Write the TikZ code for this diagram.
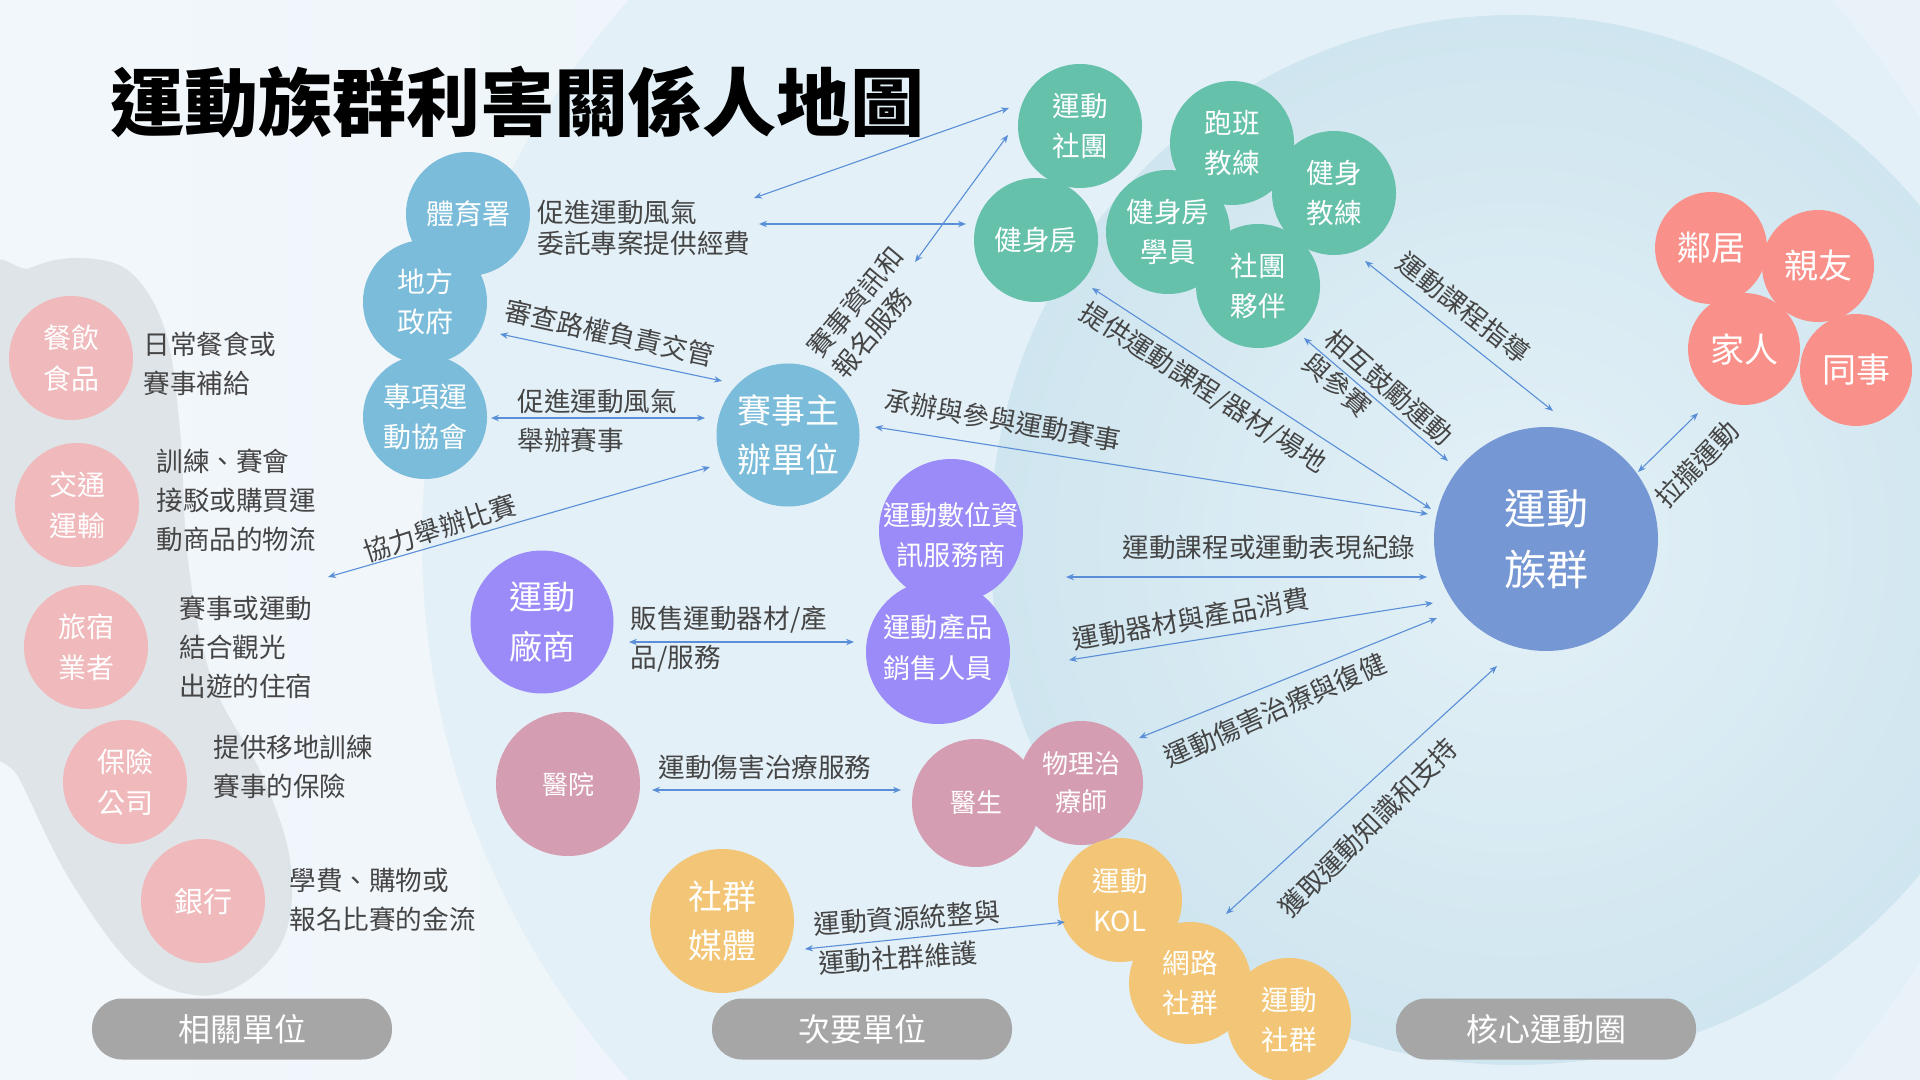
\documentclass[tikz,border=0pt]{standalone}
\usepackage{fontspec}
\setmainfont{Noto Sans CJK TC}
\usetikzlibrary{arrows.meta}
\definecolor{bgA}{HTML}{F2F7FB}
\definecolor{bgB}{HTML}{E8F2F8}
\definecolor{secfill}{HTML}{E3F0F7}
\definecolor{coreIn}{HTML}{E4F1F7}
\definecolor{coreOut}{HTML}{CFE5EF}
\definecolor{blobgray}{HTML}{DCE3E7}
\definecolor{cblue}{HTML}{7ABCD9}
\definecolor{cgreen}{HTML}{66C1AB}
\definecolor{csalmon}{HTML}{F9918A}
\definecolor{ccore}{HTML}{7597D3}
\definecolor{cpink}{HTML}{F0B9BB}
\definecolor{cpurple}{HTML}{9A8BF9}
\definecolor{cmauve}{HTML}{D59DB1}
\definecolor{cyellow}{HTML}{F2C676}
\definecolor{cpill}{HTML}{A6A6A6}
\definecolor{carrow}{HTML}{5A8FD8}
\definecolor{ctext}{HTML}{454545}
\tikzset{
  bub/.style={circle, inner sep=0pt, minimum size=#1, draw=none},
  wtxt/.style={text=white, align=center, inner sep=0pt},
  fs/.style 2 args={font=\fontsize{#1}{#2}\selectfont},
  lbl/.style={text=ctext, align=left, inner sep=0pt, font=\fontsize{13.3}{19.5}\selectfont},
  pill/.style={fill=cpill, rounded corners=15pt, minimum width=150pt, minimum height=30.5pt, text=white, inner sep=0pt, font=\fontsize{16}{20}\selectfont},
  conn/.style={draw=carrow, line width=0.55pt, {Stealth[length=4pt,width=3.2pt]}-{Stealth[length=4pt,width=3.2pt]}}
}
\begin{document}
\begin{tikzpicture}[x=0.5pt,y=-0.5pt]
\useasboundingbox (0,0) rectangle (1920,1080);
% ---------- background ----------
\begin{scope}
\clip (0,0) rectangle (1920,1080);
\shade[left color=bgA, right color=bgB] (0,0) rectangle (1920,1080);
\fill[secfill] (1230,540) circle[radius=404pt];
\shade[inner color=coreIn, outer color=coreOut] (1515,540) circle[radius=262.5pt];
\fill[blobgray, opacity=0.9] plot[smooth cycle, tension=0.6] coordinates {
 (-20,300) (30,268) (80,258) (130,272) (165,330) (180,430) (188,560) (212,680)
 (262,775) (290,860) (285,935) (245,982) (195,995) (135,968) (70,880) (20,780) (-20,700)};
\end{scope}
% ---------- title ----------
\node[font=\fontsize{37}{40}\selectfont\bfseries, text=black, inner sep=0pt] (title) at (517,102) {運動族群利害關係人地圖};
% ---------- circles ----------
% blue
\node[bub=62pt, fill=cblue] (tiyu) at (468,214) {};
\node[bub=62pt, fill=cblue] (difang) at (425,302) {};
\node[bub=62pt, fill=cblue] (zhuanxiang) at (425,417) {};
\node[bub=71.5pt, fill=cblue] (saishi) at (788,435) {};
% green
\node[bub=62pt, fill=cgreen] (ydst) at (1080,126) {};
\node[bub=62pt, fill=cgreen] (jsf) at (1036,240) {};
\node[bub=62pt, fill=cgreen] (paoban) at (1232,143) {};
\node[bub=62pt, fill=cgreen] (jsjl) at (1334,193) {};
\node[bub=62pt, fill=cgreen] (xueyuan) at (1168,232) {};
\node[bub=62pt, fill=cgreen] (huoban) at (1258,286) {};
% salmon
\node[bub=56pt, fill=csalmon] (linju) at (1711,248) {};
\node[bub=56pt, fill=csalmon] (qinyou) at (1818,266) {};
\node[bub=56pt, fill=csalmon] (jiaren) at (1744,349) {};
\node[bub=56pt, fill=csalmon] (tongshi) at (1856,370) {};
% core
\node[bub=112pt, fill=ccore] (zuqun) at (1546,539) {};
% left pink
\node[bub=62pt, fill=cpink] (canyin) at (71,358) {};
\node[bub=62pt, fill=cpink] (jiaotong) at (77,505) {};
\node[bub=62pt, fill=cpink] (lvsu) at (86,647) {};
\node[bub=62pt, fill=cpink] (baoxian) at (125,782) {};
\node[bub=62pt, fill=cpink] (yinhang) at (203,901) {};
% purple
\node[bub=71.5pt, fill=cpurple] (changshang) at (542,622) {};
\node[bub=72pt, fill=cpurple] (shuwei) at (951,531) {};
\node[bub=72pt, fill=cpurple] (xiaoshou) at (938,652) {};
% mauve
\node[bub=72pt, fill=cmauve] (yiyuan) at (568,784) {};
\node[bub=64pt, fill=cmauve] (yisheng) at (976,803) {};
\node[bub=62pt, fill=cmauve] (wuli) at (1081,783) {};
% yellow
\node[bub=72pt, fill=cyellow] (shequn) at (722,921) {};
\node[bub=62pt, fill=cyellow] (kol) at (1120,900) {};
\node[bub=61pt, fill=cyellow] (wanglu) at (1190,983) {};
\node[bub=62pt, fill=cyellow] (ydsq) at (1289,1020) {};
% ---------- circle texts ----------
\node[wtxt, fs={14}{20}] (tiyu-t) at (tiyu) {體育署};
\node[wtxt, fs={14}{20}] (difang-t) at (difang) {地方\\政府};
\node[wtxt, fs={14}{20}] (zhuanxiang-t) at (zhuanxiang) {專項運\\動協會};
\node[wtxt, fs={17}{24.5}] (saishi-t) at (saishi) {賽事主\\辦單位};
\node[wtxt, fs={13.8}{20}] (ydst-t) at (ydst) {運動\\社團};
\node[wtxt, fs={13.8}{20}] (jsf-t) at (jsf) {健身房};
\node[wtxt, fs={13.8}{20}] (paoban-t) at (paoban) {跑班\\教練};
\node[wtxt, fs={13.8}{20}] (jsjl-t) at (jsjl) {健身\\教練};
\node[wtxt, fs={13.8}{20}] (xueyuan-t) at (xueyuan) {健身房\\學員};
\node[wtxt, fs={13.8}{20}] (huoban-t) at (huoban) {社團\\夥伴};
\node[wtxt, fs={17}{24}] (linju-t) at (linju) {鄰居};
\node[wtxt, fs={17}{24}] (qinyou-t) at (qinyou) {親友};
\node[wtxt, fs={17}{24}] (jiaren-t) at (jiaren) {家人};
\node[wtxt, fs={17}{24}] (tongshi-t) at (tongshi) {同事};
\node[wtxt, fs={21}{30.5}] (zuqun-t) at (zuqun) {運動\\族群};
\node[wtxt, fs={14}{20.5}] (canyin-t) at (canyin) {餐飲\\食品};
\node[wtxt, fs={14}{20.5}] (jiaotong-t) at (jiaotong) {交通\\運輸};
\node[wtxt, fs={14}{20.5}] (lvsu-t) at (lvsu) {旅宿\\業者};
\node[wtxt, fs={14}{20.5}] (baoxian-t) at (baoxian) {保險\\公司};
\node[wtxt, fs={14.5}{20.5}] (yinhang-t) at (yinhang) {銀行};
\node[wtxt, fs={16.5}{25}] (changshang-t) at (changshang) {運動\\廠商};
\node[wtxt, fs={13.6}{20}] (shuwei-t) at (951,535) {運動數位資\\訊服務商};
\node[wtxt, fs={13.6}{20.5}] (xiaoshou-t) at (938,648) {運動產品\\銷售人員};
\node[wtxt, fs={13}{19}] (yiyuan-t) at (yiyuan) {醫院};
\node[wtxt, fs={13}{19}] (yisheng-t) at (yisheng) {醫生};
\node[wtxt, fs={13}{19}] (wuli-t) at (wuli) {物理治\\療師};
\node[wtxt, fs={17}{24.5}] (shequn-t) at (shequn) {社群\\媒體};
\node[wtxt, fs={13.8}{20}] (kol-t) at (kol) {運動\\KOL};
\node[wtxt, fs={13.8}{20}] (wanglu-t) at (wanglu) {網路\\社群};
\node[wtxt, fs={13.8}{20}] (ydsq-t) at (ydsq) {運動\\社群};
% ---------- pills ----------
\node[pill] (xiangguan) at (242,1029) {相關單位};
\node[pill] (ciyao) at (862,1029) {次要單位};
\node[pill] (hexin) at (1546,1029) {核心運動圈};
% ---------- left labels ----------
\node[lbl, anchor=west] (l1) at (143,363.5) {日常餐食或\\賽事補給};
\node[lbl, anchor=west] (l2) at (156,500) {訓練、賽會\\接駁或購買運\\動商品的物流};
\node[lbl, anchor=west] (l3) at (179,647) {賽事或運動\\結合觀光\\出遊的住宿};
\node[lbl, anchor=west] (l4) at (213,766.5) {提供移地訓練\\賽事的保險};
\node[lbl, anchor=west] (l5) at (289,900) {學費、購物或\\報名比賽的金流};
% ---------- connector labels ----------
\node[lbl, anchor=west, font=\fontsize{13.3}{15.5}\selectfont] (t1) at (537,228) {促進運動風氣\\委託專案提供經費};
\node[lbl, anchor=west] (t2) at (517,420.5) {促進運動風氣\\舉辦賽事};
\node[lbl, anchor=west] (t3) at (630,639.5) {販售運動器材/產\\品/服務};
\node[lbl] (t4) at (765,767) {運動傷害治療服務};
\node[lbl] (t5) at (1269,547) {運動課程或運動表現紀錄};
\node[lbl, rotate=-12.5] (t6) at (610,333) {審查路權負責交管};
\node[lbl, rotate=18] (t7) at (440,528) {協力舉辦比賽};
\node[lbl, rotate=50] (t8a) at (855,302) {賽事資訊和};
\node[lbl, rotate=50] (t8b) at (872,333) {報名服務};
\node[lbl, rotate=-10] (t9) at (1003,420) {承辦與參與運動賽事};
\node[lbl, rotate=-33] (t10) at (1203,388) {提供運動課程/器材/場地};
\node[lbl, rotate=-41] (t11a) at (1389,387) {相互鼓勵運動};
\node[lbl, rotate=-41] (t11b) at (1337,385) {與參賽};
\node[lbl, rotate=-38] (t12) at (1464,308) {運動課程指導};
\node[lbl, rotate=46] (t13) at (1697,464) {拉攏運動};
\node[lbl, rotate=10] (t14) at (1191,619) {運動器材與產品消費};
\node[lbl, rotate=24] (t15) at (1275,710) {運動傷害治療與復健};
\node[lbl, rotate=45] (t16) at (1368,828) {獲取運動知識和支持};
\node[lbl, rotate=4] (t17a) at (907,918) {運動資源統整與};
\node[lbl, rotate=4] (t17b) at (898,958) {運動社群維護};
% ---------- connector end points ----------
\coordinate (a1s) at (754,198);  \coordinate (a1e) at (1009,108);
\coordinate (a2s) at (759,224);  \coordinate (a2e) at (966,224);
\coordinate (a3s) at (915,262);  \coordinate (a3e) at (1008,135);
\coordinate (a4s) at (500,334);  \coordinate (a4e) at (722,381);
\coordinate (a5s) at (491,418);  \coordinate (a5e) at (705,418);
\coordinate (a6s) at (328,577);  \coordinate (a6e) at (710,467);
\coordinate (a7s) at (875,427);  \coordinate (a7e) at (1428,514);
\coordinate (a8s) at (1092,288); \coordinate (a8e) at (1431,509);
\coordinate (a9s) at (1304,338); \coordinate (a9e) at (1448,461);
\coordinate (a10s) at (1365,261); \coordinate (a10e) at (1553,411);
\coordinate (a11s) at (1698,413); \coordinate (a11e) at (1638,472);
\coordinate (a12s) at (1066,577); \coordinate (a12e) at (1427,577);
\coordinate (a13s) at (1069,660); \coordinate (a13e) at (1433,603);
\coordinate (a14s) at (1139,738); \coordinate (a14e) at (1437,618);
\coordinate (a15s) at (1226,914); \coordinate (a15e) at (1497,666);
\coordinate (a16s) at (629,642);  \coordinate (a16e) at (854,642);
\coordinate (a17s) at (652,790);  \coordinate (a17e) at (901,790);
\coordinate (a18s) at (805,949);  \coordinate (a18e) at (1065,922);
\foreach \i in {1,...,18} {\draw[conn] (a\i s) -- (a\i e);}
\end{tikzpicture}
\end{document}
